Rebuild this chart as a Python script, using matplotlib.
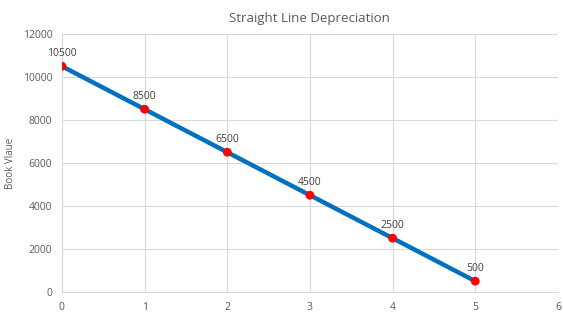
import matplotlib
matplotlib.use("Agg")
import matplotlib.pyplot as plt

years = [0, 1, 2, 3, 4, 5]
book_value = [10500, 8500, 6500, 4500, 2500, 500]
x_ticks = [0, 1, 2, 3, 4, 5, 6]
y_ticks = [0, 2000, 4000, 6000, 8000, 10000, 12000]

plt.rcParams['font.family'] = ['Open Sans', 'DejaVu Sans']
fig = plt.figure(figsize=(5.63, 3.24), dpi=100)
ax = fig.add_axes([0.110, 0.099, 0.881, 0.796])

ax.plot(years, book_value, color='#0070C0', linewidth=3.2, zorder=3, solid_capstyle='round')
ax.scatter(years, book_value, s=40, color='#FF0000', zorder=4, edgecolors='none')
for x, y in zip(years, book_value):
    ax.annotate(f"{y}", (x, y), xytext=(0, 5), textcoords='offset points',
                ha='center', va='bottom', fontsize=7.5, color='#404040', zorder=5)

ax.set_xlim(0, 6)
ax.set_ylim(0, 12000)
ax.set_xticks(x_ticks)
ax.set_yticks(y_ticks)
ax.tick_params(axis='both', length=0, labelsize=7.5, colors='#595959', pad=7)
ax.grid(True, color='#D9D9D9', linewidth=0.8)
ax.set_axisbelow(True)
for s in ['top', 'right']:
    ax.spines[s].set_visible(False)
ax.spines['left'].set_color('#D9D9D9')
ax.spines['bottom'].set_color('#D9D9D9')

ax.set_title('Straight Line Depreciation', fontsize=9.5, color='#595959', pad=9)
ax.set_ylabel('Book Vlaue', fontsize=7, color='#595959', labelpad=5)
ax.set_xlabel('Years', fontsize=7, color='#595959', labelpad=10)

fig.savefig('out.png', dpi=100)
